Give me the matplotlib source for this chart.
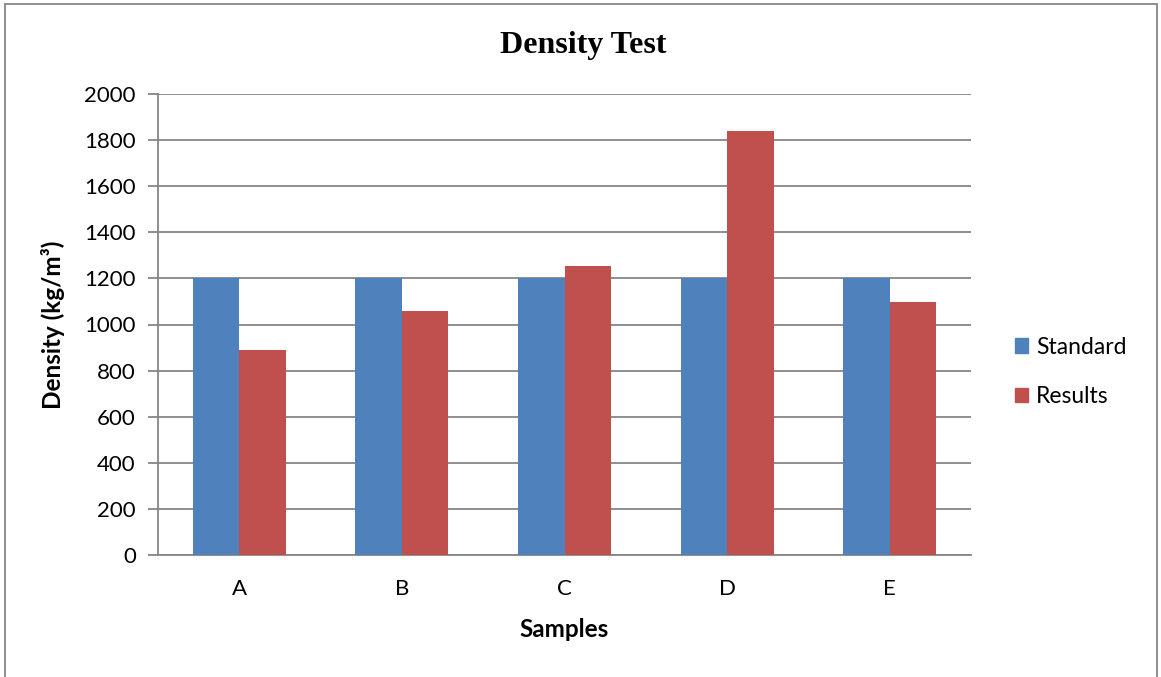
import matplotlib.pyplot as plt
import numpy as np
from matplotlib.patches import Rectangle, Patch

samples = ["A", "B", "C", "D", "E"]
standard = [1200, 1200, 1200, 1200, 1200]
results = [890, 1060, 1255, 1838, 1098]

blue = "#4F81BD"
red = "#C0504D"
grid_col = "#868686"
font = "Lato"

fig = plt.figure(figsize=(11.61, 6.77), dpi=100)
ax = fig.add_axes([158 / 1161, 1 - 555 / 677, (971 - 158) / 1161, (555 - 94) / 677])

x = np.arange(len(samples))
w = 0.286
ax.bar(x - w / 2, standard, w, color=blue, label="Standard", zorder=3)
ax.bar(x + w / 2, results, w, color=red, label="Results", zorder=3)

ax.set_xlim(-0.5, len(samples) - 0.5)
ax.set_ylim(0, 2000)
ax.set_yticks(range(0, 2001, 200))
ax.set_xticks(x)
ax.set_xticklabels(samples, fontname=font, fontsize=16)
for lab in ax.get_yticklabels():
    lab.set_fontname(font)
    lab.set_fontsize(16)

ax.yaxis.grid(True, color=grid_col, linewidth=1.3, zorder=0)
for s in ["top", "right"]:
    ax.spines[s].set_visible(False)
for s in ["left", "bottom"]:
    ax.spines[s].set_color(grid_col)
    ax.spines[s].set_linewidth(1.3)
ax.tick_params(axis="y", length=7, color=grid_col, width=1.3, pad=9)
ax.tick_params(axis="x", length=0, pad=17)

ax.set_xlabel("Samples", fontname=font, fontsize=17.5, fontweight="bold", labelpad=14)
ax.set_ylabel("Density (kg/m³)", fontname=font, fontsize=17.5, fontweight="bold", labelpad=14)

fig.text(583 / 1161, 1 - 45 / 677, "Density Test", fontname="Liberation Serif",
         fontsize=23, fontweight="bold", ha="center", va="center")

handles = [Patch(color=blue, label="Standard"), Patch(color=red, label="Results")]
leg = fig.legend(handles=handles, loc="center left", bbox_to_anchor=(1015 / 1161, 1 - 372 / 677),
                 frameon=False, prop={"family": font, "size": 16.5},
                 borderpad=0, borderaxespad=0,
                 handlelength=0.58, handleheight=0.58, handletextpad=0.35, labelspacing=1.25)

fig.patches.append(Rectangle((5 / 1161, -0.05), (1157 - 5) / 1161, 1.05 - 4 / 677,
                             transform=fig.transFigure, fill=False,
                             edgecolor=grid_col, linewidth=1.3))

fig.savefig("out.png", dpi=100)
